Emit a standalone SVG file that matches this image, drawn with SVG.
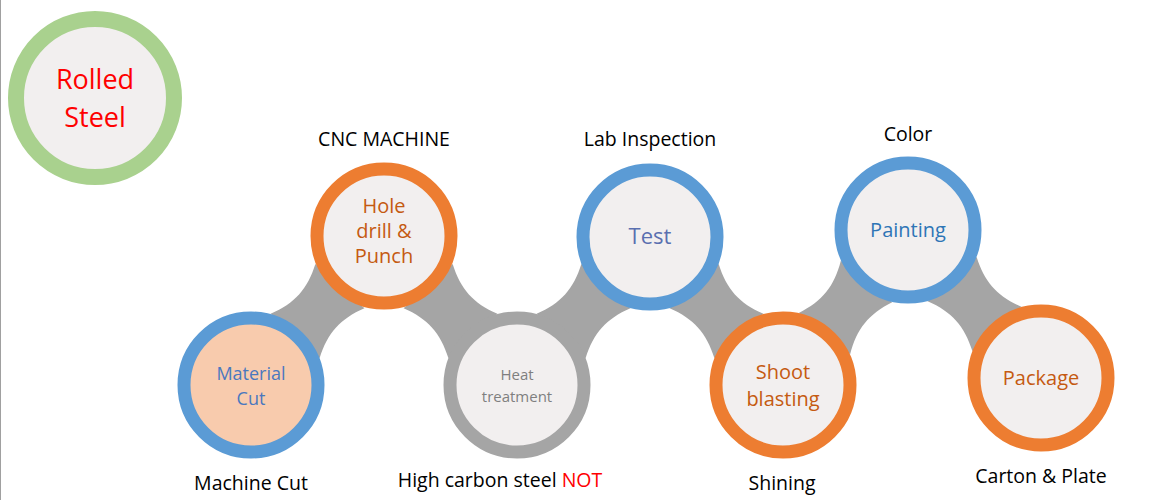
<svg xmlns="http://www.w3.org/2000/svg" xmlns:xlink="http://www.w3.org/1999/xlink" width="1150" height="500" viewBox="0 0 1150 500">
<style>
.ring{fill:#F2EFEF;stroke-width:13}
.blue{stroke:#5B9BD5}.orange{stroke:#ED7D31}.gray{stroke:#A5A5A5}.green{stroke:#A9D18E;stroke-width:16}
text{font-family:"Open Sans","Liberation Sans",sans-serif;text-anchor:middle}
.lbl{font-size:19.5px;fill:#000}
.neck{fill:#A5A5A5}
</style>
<defs>
<path id="neck" d="M66,33 C90,22 109,22 133,33 L133,-33 C109,-22 90,-22 66,-33 Z"/>
</defs>
<rect width="1150" height="500" fill="#fff"/>
<line x1="0.5" y1="0" x2="0.5" y2="500" stroke="#A0A0A0"/>
<g id="connectors" class="neck">
<use xlink:href="#neck" transform="translate(251,385) rotate(-48.05)"/>
<use xlink:href="#neck" transform="translate(384,237) rotate(48.05)"/>
<use xlink:href="#neck" transform="translate(517,385) rotate(-48.05)"/>
<use xlink:href="#neck" transform="translate(650,237) rotate(48.05)"/>
<use xlink:href="#neck" transform="translate(783,385) rotate(-51.1)"/>
<use xlink:href="#neck" transform="translate(908,230) rotate(48.05)"/>
</g>
<g id="rolled"><circle class="ring green" cx="95" cy="98" r="79"/>
<text font-size="27" fill="#FF0000"><tspan x="95" y="89">Rolled</tspan><tspan x="95" y="127">Steel</tspan></text></g>
<g id="materialcut"><circle class="ring blue" cx="251" cy="385" r="67" style="fill:#F8CBAD"/>
<text font-size="18" fill="#4A78BF"><tspan x="251" y="380">Material</tspan><tspan x="251" y="405">Cut</tspan></text>
<text class="lbl" x="251" y="490">Machine Cut</text></g>
<g id="hole"><circle class="ring orange" cx="384" cy="236" r="67"/>
<text font-size="20" fill="#C55A11"><tspan x="384" y="213">Hole</tspan><tspan x="384" y="238">drill &amp;</tspan><tspan x="384" y="263">Punch</tspan></text>
<text class="lbl" x="384" y="146">CNC MACHINE</text></g>
<g id="heat"><circle class="ring gray" cx="517" cy="385" r="67"/>
<text font-size="15" fill="#7F7F7F"><tspan x="517" y="380">Heat</tspan><tspan x="517" y="402">treatment</tspan></text>
<text class="lbl" x="500" y="487" font-size="17">High carbon steel <tspan fill="#FF0000">NOT</tspan></text></g>
<g id="test"><circle class="ring blue" cx="650" cy="237" r="67"/>
<text font-size="22" fill="#5A6FB0" x="650" y="244">Test</text>
<text class="lbl" x="650" y="146">Lab Inspection</text></g>
<g id="shoot"><circle class="ring orange" cx="783" cy="385" r="67"/>
<text font-size="20" fill="#C55A11"><tspan x="783" y="379">Shoot</tspan><tspan x="783" y="406">blasting</tspan></text>
<text class="lbl" x="782" y="490">Shining</text></g>
<g id="painting"><circle class="ring blue" cx="908" cy="230" r="67"/>
<text font-size="20" fill="#2E75B6" x="908" y="237">Painting</text>
<text class="lbl" x="908" y="141">Color</text></g>
<g id="package"><circle class="ring orange" cx="1041" cy="378" r="67"/>
<text font-size="20" fill="#C55A11" x="1041" y="385">Package</text>
<text class="lbl" x="1041" y="483">Carton &amp; Plate</text></g>
</svg>
